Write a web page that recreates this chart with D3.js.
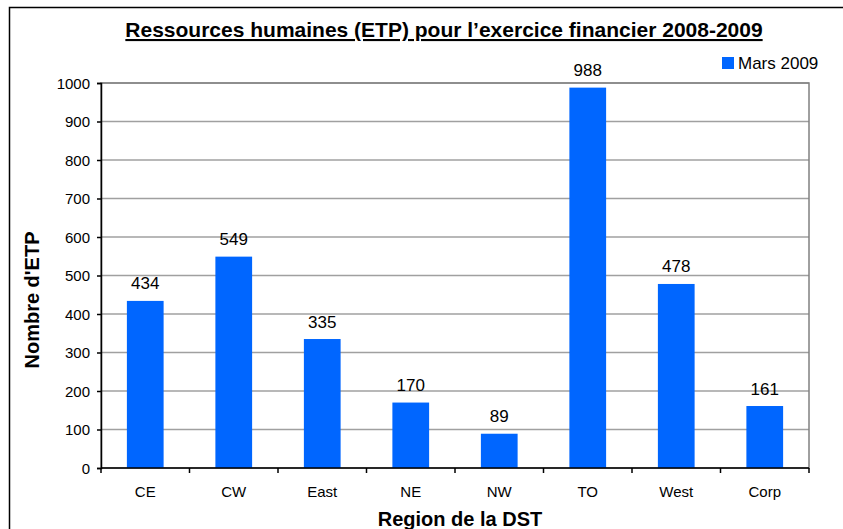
<!DOCTYPE html>
<html>
<head>
<meta charset="utf-8">
<script src="https://cdn.jsdelivr.net/npm/d3@7"></script>
<style>
  body { margin: 0; background: #fff; }
  text { font-family: "Liberation Sans", Arial, sans-serif; fill: #000; }
</style>
</head>
<body>
<div id="chart"></div>
<script>
const regions = ["CE", "CW", "East", "NE", "NW", "TO", "West", "Corp"];
const mars2009 = [434, 549, 335, 170, 89, 988, 478, 161];
const yTicks = [0, 100, 200, 300, 400, 500, 600, 700, 800, 900, 1000];
const seriesName = "Mars 2009";
const titleText = "Ressources humaines (ETP) pour l’exercice financier 2008-2009";

const W = 843, H = 529;
const margin = { top: 83, right: 34, bottom: 61, left: 101 };
const width = W - margin.left - margin.right;
const height = H - margin.top - margin.bottom;

const svg = d3.select("#chart").append("svg")
    .attr("width", W)
    .attr("height", H);

// cadre extérieur
svg.append("rect")
    .attr("x", 9.5).attr("y", 7.5)
    .attr("width", W).attr("height", H)
    .attr("fill", "none")
    .attr("stroke", "#000")
    .attr("stroke-width", 1.5);

const g = svg.append("g")
    .attr("transform", `translate(${margin.left},${margin.top})`);

const x = d3.scaleBand()
    .domain(regions)
    .range([0, width])
    .paddingInner(0.585)
    .paddingOuter(0.2925);

const y = d3.scaleLinear()
    .domain([0, 1000])
    .range([height, 0]);

// grille
g.append("g")
    .selectAll("line")
    .data(yTicks.filter(d => d > 0))
    .join("line")
    .attr("x1", 0).attr("x2", width)
    .attr("y1", d => y(d)).attr("y2", d => y(d))
    .attr("stroke", "#a0a0a0")
    .attr("stroke-width", 1.5);

// bordure de la zone de tracé
g.append("rect")
    .attr("width", width).attr("height", height)
    .attr("fill", "none")
    .attr("stroke", "#808080")
    .attr("stroke-width", 1.5);

g.selectAll(".bar")
    .data(mars2009)
    .join("rect")
    .attr("class", "bar")
    .attr("x", (d, i) => x(regions[i]))
    .attr("width", x.bandwidth())
    .attr("y", d => y(d))
    .attr("height", d => height - y(d))
    .attr("fill", "#0066ff");

g.selectAll(".val")
    .data(mars2009)
    .join("text")
    .attr("class", "val")
    .attr("text-anchor", "middle")
    .attr("font-size", 17)
    .attr("x", (d, i) => x(regions[i]) + x.bandwidth() / 2)
    .attr("y", d => y(d) - 11.5)
    .text(d => d);

// axe Y
const yAxis = g.append("g")
    .call(d3.axisLeft(y).tickValues(yTicks).tickSize(4).tickPadding(7).tickFormat(d3.format("d")));
yAxis.select(".domain").attr("stroke", "#000").attr("stroke-width", 1.5);
yAxis.selectAll(".tick line").attr("stroke", "#000").attr("stroke-width", 1.5);
yAxis.selectAll(".tick text")
    .attr("font-size", 15)
    .attr("font-family", "Liberation Sans, Arial, sans-serif")
    .attr("dy", null)
    .attr("y", 5.4);

// axe X
const xBound = d3.scaleLinear().domain([0, regions.length]).range([0, width]);
const xAxisG = g.append("g").attr("transform", `translate(0,${height})`);
xAxisG.append("line")
    .attr("x1", 0).attr("x2", width)
    .attr("stroke", "#000").attr("stroke-width", 1.5);
xAxisG.selectAll(".xt")
    .data(d3.range(regions.length + 1))
    .join("line")
    .attr("class", "xt")
    .attr("x1", d => xBound(d)).attr("x2", d => xBound(d))
    .attr("y1", 0).attr("y2", 5)
    .attr("stroke", "#000").attr("stroke-width", 1.5);
xAxisG.selectAll(".xl")
    .data(regions)
    .join("text")
    .attr("class", "xl")
    .attr("text-anchor", "middle")
    .attr("font-size", 15)
    .attr("x", d => x(d) + x.bandwidth() / 2)
    .attr("y", 29)
    .text(d => d);

// titre
svg.append("text")
    .attr("text-anchor", "middle")
    .attr("font-size", 21)
    .attr("font-weight", "bold")
    .attr("text-decoration", "underline")
    .attr("x", 444).attr("y", 37)
    .text(titleText);

svg.append("text")
    .attr("text-anchor", "middle")
    .attr("font-size", 20)
    .attr("font-weight", "bold")
    .attr("x", 460).attr("y", 526)
    .text("Region de la DST");

svg.append("text")
    .attr("text-anchor", "middle")
    .attr("font-size", 20)
    .attr("font-weight", "bold")
    .attr("transform", "translate(38.5,300) rotate(-90)")
    .text("Nombre d'ETP");

// légende
const legend = svg.append("g").attr("transform", "translate(722,57)");
legend.append("rect")
    .attr("width", 12).attr("height", 12)
    .attr("fill", "#0066ff");
legend.append("text")
    .attr("font-size", 17)
    .attr("x", 16).attr("y", 11.5)
    .text(seriesName);
</script>
</body>
</html>
